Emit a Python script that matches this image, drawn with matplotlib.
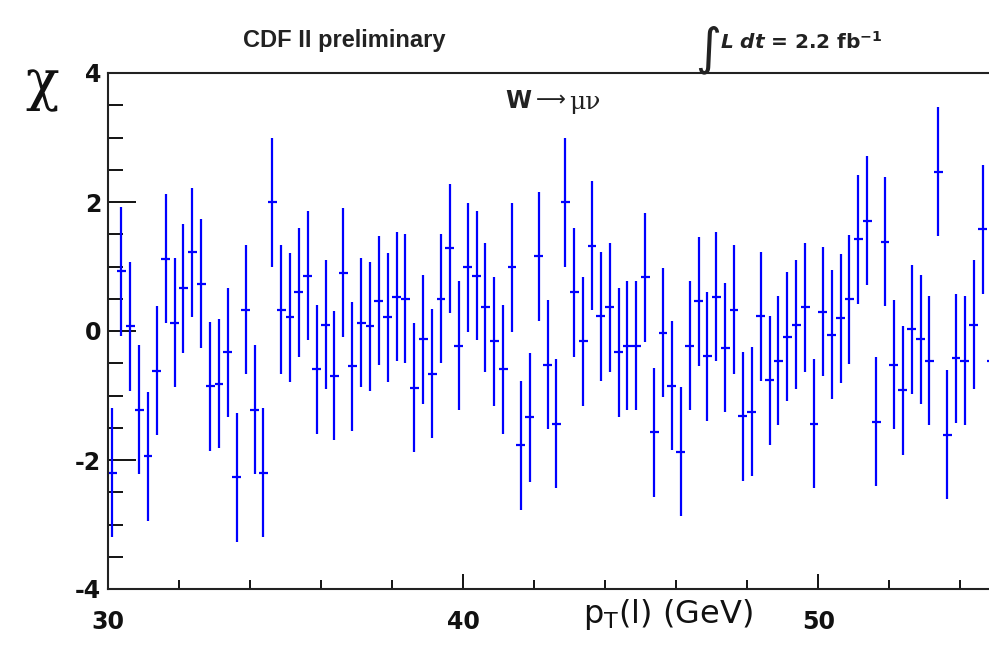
import matplotlib
matplotlib.use("Agg")
import matplotlib.pyplot as plt
from matplotlib.ticker import MultipleLocator

# bin centres of p_T(l), 0.25 GeV bins from 30 to 55 GeV
pt_lo = 30.0
bin_width = 0.25

# chi = (data - fit) / error per bin
chi = [-2.20, 0.93, 0.07, -1.22, -1.94, -0.62, 1.12, 0.13, 0.66, 1.22,
       0.73, -0.86, -0.82, -0.33, -2.27, 0.33, -1.22, -2.20, 2.00, 0.33,
       0.21, 0.60, 0.86, -0.59, 0.10, -0.69, 0.90, -0.55, 0.13, 0.07,
       0.47, 0.21, 0.53, 0.50, -0.88, -0.13, -0.66, 0.50, 1.28, -0.23,
       0.99, 0.86, 0.37, -0.16, -0.59, 0.99, -1.77, -1.34, 1.16, -0.52,
       -1.44, 2.00, 0.60, -0.16, 1.32, 0.23, 0.37, -0.33, -0.23, -0.23,
       0.83, -1.57, -0.03, -0.85, -1.87, -0.23, 0.46, -0.39, 0.53, -0.26,
       0.33, -1.32, -1.25, 0.23, -0.76, -0.46, -0.09, 0.10, 0.37, -1.44,
       0.30, -0.06, 0.20, 0.49, 1.42, 1.71, -1.41, 1.38, -0.52, -0.92,
       0.03, -0.13, -0.46, 2.47, -1.61, -0.42, -0.46, 0.10, 1.58, -0.46]
chi_err = 1.0

x_ticks = [30, 40, 50]
y_ticks = [-4, -2, 0, 2, 4]

pt = [pt_lo + bin_width * (i + 0.5) for i in range(len(chi))]

fig = plt.figure(figsize=(9.89, 6.46), dpi=100)
ax = fig.add_axes([108 / 989, 1 - 589 / 646, 888 / 989, (589 - 73) / 646])

ax.errorbar(pt, chi, yerr=chi_err, xerr=bin_width / 2, fmt='none',
            ecolor='#0000ff', elinewidth=1.6, capsize=0)

ax.set_xlim(30, 55)
ax.set_ylim(-4, 4)

ax.set_xticks(x_ticks)
ax.set_yticks(y_ticks)
ax.xaxis.set_minor_locator(MultipleLocator(2))
ax.yaxis.set_minor_locator(MultipleLocator(0.5))

ax.tick_params(axis='y', which='major', direction='in', length=20, width=1.3,
               pad=5, labelsize=17)
ax.tick_params(axis='y', which='minor', direction='in', length=10.5, width=1.3)
ax.tick_params(axis='x', which='major', direction='in', length=11, width=1.3,
               pad=15, labelsize=17)
ax.tick_params(axis='x', which='minor', direction='in', length=6.5, width=1.3)
ax.set_yticklabels(['-4', '-2', '0', '2', '4'])
for lab in ax.get_xticklabels() + ax.get_yticklabels():
    lab.set_fontfamily('DejaVu Sans')
    lab.set_fontweight('bold')
    lab.set_color('#111111')

for sp in ax.spines.values():
    sp.set_linewidth(1.5)
    sp.set_color('#222222')

# axis titles
fig.text(668 / 989, 1 - 615 / 646, r'p$_\mathregular{T}$(l) (GeV)',
         ha='center', va='center', fontsize=23, family='DejaVu Sans',
         color='#111111')
fig.text(42 / 989, 1 - 85 / 646, 'χ', ha='center', va='center',
         fontsize=40, family='DejaVu Serif', color='#111111')

# header labels
fig.text(344 / 989, 1 - 41 / 646, 'CDF II preliminary', ha='center',
         va='center', fontsize=17, family='Liberation Sans',
         fontweight='bold', color='#222222')
fig.text(708 / 989, 1 - 50 / 646, '∫', ha='center', va='center',
         fontsize=36, family='DejaVu Sans', color='#222222')
plt.rcParams['mathtext.fontset'] = 'custom'
plt.rcParams['mathtext.rm'] = 'DejaVu Sans:bold'
plt.rcParams['mathtext.it'] = 'DejaVu Sans:italic:bold'
fig.text(720 / 989, 1 - 42 / 646, r'$\mathit{L\ dt}$ = 2.2 fb$^{-1}$',
         ha='left', va='center', fontsize=14.5, family='DejaVu Sans',
         fontweight='bold', color='#222222')

# channel label W -> mu nu
fig.text(505 / 989, 1 - 101 / 646, 'W', ha='left', va='center',
         fontsize=17, family='DejaVu Sans', fontweight='bold',
         color='#222222')
fig.text(551 / 989, 1 - 100 / 646, '⟶', ha='center', va='center',
         fontsize=15, family='DejaVu Sans', color='#222222')
fig.text(569 / 989, 1 - 103 / 646, 'μν', ha='left', va='center',
         fontsize=18, family='DejaVu Serif', color='#222222')

fig.savefig('out.png', dpi=100)
